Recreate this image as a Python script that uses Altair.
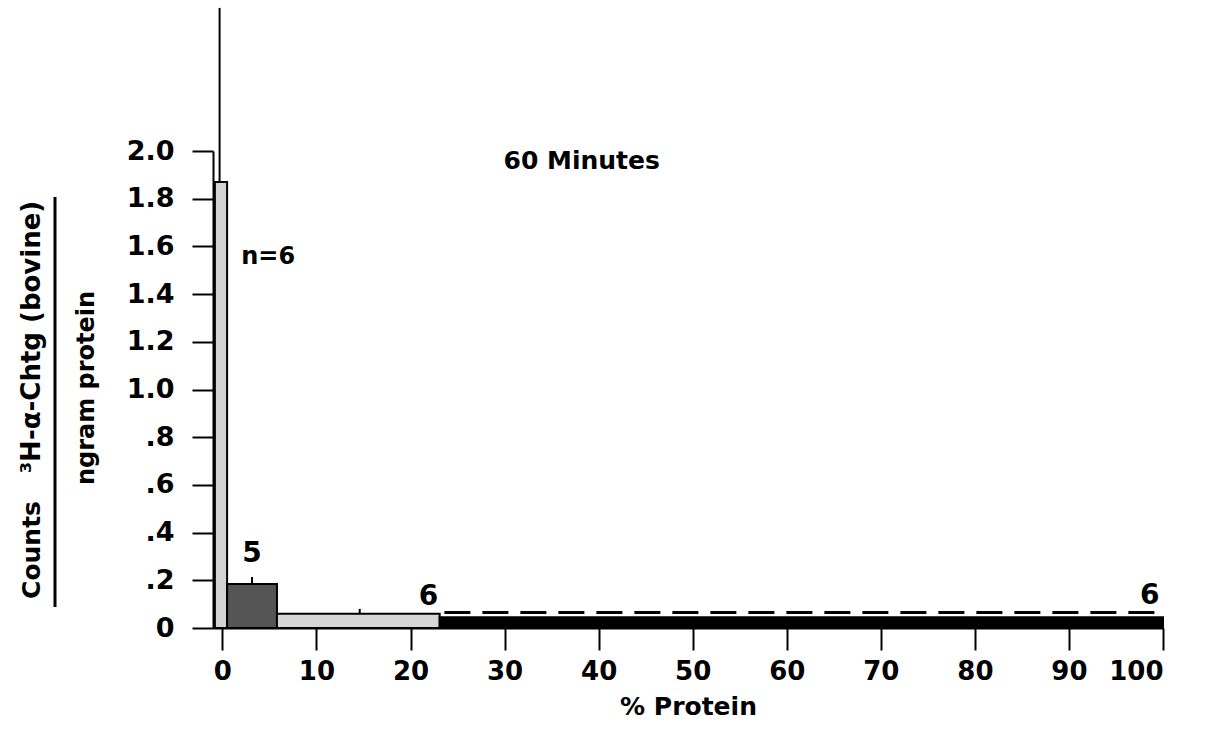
import altair as alt
import pandas as pd

# ---- data ----
bin_start = [-0.8, 0.5, 5.8, 23.1]
bin_end = [0.5, 5.8, 23.1, 100.0]
counts = [1.87, 0.185, 0.06, 0.045]
bar_fill = ["#d2d2d2", "#555555", "#d6d6d6", "#000000"]

n_labels = ["n=6", "5", "6", "6"]
label_x = [2.0, 3.15, 21.9, 98.6]
label_y = [1.555, 0.31, 0.13, 0.135]

err_x = [-0.3, 3.15, 14.6]
err_lo = [1.87, 0.185, 0.06]
err_hi = [2.60, 0.214, 0.08]

dash_x = [23.6, 100.0]
dash_y = [0.065, 0.065]

x_ticks = [0, 10, 20, 30, 40, 50, 60, 70, 80, 90, 100]
y_ticks = [0, 0.2, 0.4, 0.6, 0.8, 1.0, 1.2, 1.4, 1.6, 1.8, 2.0]

title_text = ["60 Minutes"]
title_x = [38.2]
title_y = [1.96]

FONT = "DejaVu Sans"

bars_df = pd.DataFrame({"x0": bin_start, "x1": bin_end, "y": counts, "fill": bar_fill})
labels_df = pd.DataFrame({"t": n_labels, "x": label_x, "y": label_y})
err_df = pd.DataFrame({"x": err_x, "lo": err_lo, "hi": err_hi})
dash_df = pd.DataFrame({"x": dash_x, "y": dash_y})
title_df = pd.DataFrame({"t": title_text, "x": title_x, "y": title_y})

xscale = alt.Scale(domain=[-1, 100], nice=False, zero=False)
yscale = alt.Scale(domain=[0, 2.0], nice=False, zero=True)

x_axis = alt.Axis(values=x_ticks, title="% Protein", tickSize=22, labelPadding=8,
                  titlePadding=10, grid=False, labelFontSize=26)
y_axis = alt.Axis(values=y_ticks, title=None, tickSize=21, labelPadding=18, grid=False,
                  labelFontSize=27,
                  labelExpr="datum.value == 0 ? '0' : (datum.value < 1 ? replace(format(datum.value, '.1f'), '0.', '.') : format(datum.value, '.1f'))")

bars = alt.Chart(bars_df).mark_rect(stroke="black", strokeWidth=2).encode(
    x=alt.X("x0:Q", scale=xscale, axis=x_axis),
    x2="x1:Q",
    y=alt.Y("y:Q", scale=yscale, axis=y_axis),
    y2=alt.datum(0),
    fill=alt.Fill("fill:N", scale=None),
)

errs = alt.Chart(err_df).mark_rule(color="black", strokeWidth=2).encode(
    x=alt.X("x:Q", scale=xscale),
    y=alt.Y("lo:Q", scale=yscale),
    y2="hi:Q",
)

dash = alt.Chart(dash_df).mark_line(color="black", strokeWidth=3, strokeDash=[26, 12]).encode(
    x=alt.X("x:Q", scale=xscale),
    y=alt.Y("y:Q", scale=yscale),
)

labels = alt.Chart(labels_df).mark_text(font=FONT, fontWeight="bold", fontSize=28,
                                        baseline="middle", align="center").encode(
    x=alt.X("x:Q", scale=xscale),
    y=alt.Y("y:Q", scale=yscale),
    text="t:N",
)
labels_n = labels.transform_filter("datum.t == 'n=6'").mark_text(
    font=FONT, fontWeight="bold", fontSize=24, baseline="middle", align="left")
labels_o = labels.transform_filter("datum.t != 'n=6'")

title = alt.Chart(title_df).mark_text(font=FONT, fontWeight="bold", fontSize=25,
                                      baseline="middle", align="center").encode(
    x=alt.X("x:Q", scale=xscale),
    y=alt.Y("y:Q", scale=yscale),
    text="t:N",
)

# y-axis title as a fraction, rotated
ytitle_counts = alt.Chart(pd.DataFrame({"t": ["Counts"]})).mark_text(
    font=FONT, fontWeight="bold", fontSize=25, angle=270, baseline="middle", align="center"
).encode(x=alt.value(-181), y=alt.value(399), text="t:N")
ytitle_num = alt.Chart(pd.DataFrame({"t": ["³H-α-Chtg (bovine)"]})).mark_text(
    font=FONT, fontWeight="bold", fontSize=26, angle=270, baseline="middle", align="center"
).encode(x=alt.value(-181), y=alt.value(186), text="t:N")
ytitle_den = alt.Chart(pd.DataFrame({"t": ["ngram protein"]})).mark_text(
    font=FONT, fontWeight="bold", fontSize=24, angle=270, baseline="middle", align="center"
).encode(x=alt.value(-126), y=alt.value(237), text="t:N")
frac_line = alt.Chart(pd.DataFrame({"a": [0]})).mark_rule(color="black", strokeWidth=3).encode(
    x=alt.value(-158), y=alt.value(46), y2=alt.value(456)
)

chart = alt.layer(
    bars, errs, dash, labels_n, labels_o, title,
    ytitle_counts, ytitle_num, ytitle_den, frac_line,
).properties(
    width=950, height=477,
    background="white",
    autosize=alt.AutoSizeParams(type="none"),
    padding={"left": 213, "top": 151, "right": 47, "bottom": 101},
).configure_view(stroke=None).configure_axis(
    domainColor="black", domainWidth=2, tickColor="black", tickWidth=2,
    labelFont=FONT, labelFontWeight="bold", labelColor="black",
    titleFont=FONT, titleFontWeight="bold", titleFontSize=25, titleColor="black",
)

chart.save("out.html", embed_options={"renderer": "svg", "actions": False})
